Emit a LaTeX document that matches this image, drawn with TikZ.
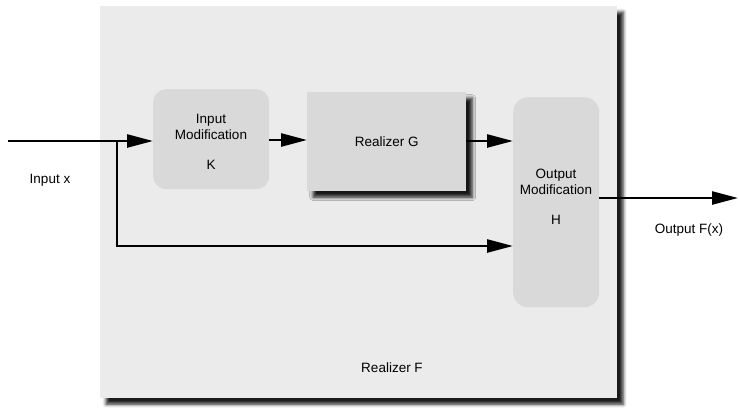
\documentclass[tikz,border=0pt]{standalone}
\usepackage{fontspec}
\setmainfont{Liberation Sans}
\usetikzlibrary{arrows.meta,shadows.blur,calc}
\begin{document}
\begin{tikzpicture}[x=1pt,y=-1pt,
  every node/.style={font=\fontsize{13.5}{16}\selectfont, text=black},
  outerbox/.style={fill=black!8, draw=none, blur shadow={shadow xshift=6pt, shadow yshift=-6pt, shadow blur radius=3.5pt, shadow opacity=90}},
  modbox/.style={fill=black!15, draw=none, rounded corners=13pt},
  realbox/.style={fill=black!15, draw=none, blur shadow={shadow xshift=6pt, shadow yshift=-6pt, shadow blur radius=3.5pt, shadow opacity=90}},
  conn/.style={line width=2.6pt, -{Triangle[length=26pt,width=13pt]}},
  plain/.style={line width=2.6pt}]
\useasboundingbox (0,0) rectangle (739,410);
\node[outerbox, minimum width=517pt, minimum height=392pt, anchor=north west] (F) at (100,6) {};
\node (Flabel) at (392,368) {Realizer F};
\node[modbox, minimum width=116pt, minimum height=100pt, anchor=north west, align=center] (K) at (153,89) {};
\node[align=center] (Ktxt) at (211,127) {Input\\Modification};
\node (Kk) at (211,165) {K};
\node[realbox, minimum width=159pt, minimum height=99pt, anchor=north west] (G) at (307,92) {Realizer G};
\node[modbox, rounded corners=15pt, minimum width=86pt, minimum height=210pt, anchor=north west] (H) at (513,97) {};
\node[align=center] (Htxt) at (556,182) {Output\\Modification};
\node (Hh) at (556,220) {H};
\node (inlabel) at (50,180) {Input x};
\node (outlabel) at (689,230) {Output F(x)};
\coordinate (inL) at (8,141);
\coordinate (j) at (117,141);
\coordinate (hin2) at (513,246);
\coordinate (hin1) at (513,141);
\coordinate (out) at (738,198);
\draw[conn] (inL) -- (K.west |- inL);
\draw[plain] (j) |- ($(hin2)+(-20,0)$);
\draw[conn] (j |- hin2) -- (hin2);
\draw[conn] (K.east |- 0,140) -- (G.west |- 0,140);
\draw[conn] (G.east |- hin1) -- (hin1);
\draw[conn] (H.east |- out) -- (out);
\end{tikzpicture}
\end{document}
